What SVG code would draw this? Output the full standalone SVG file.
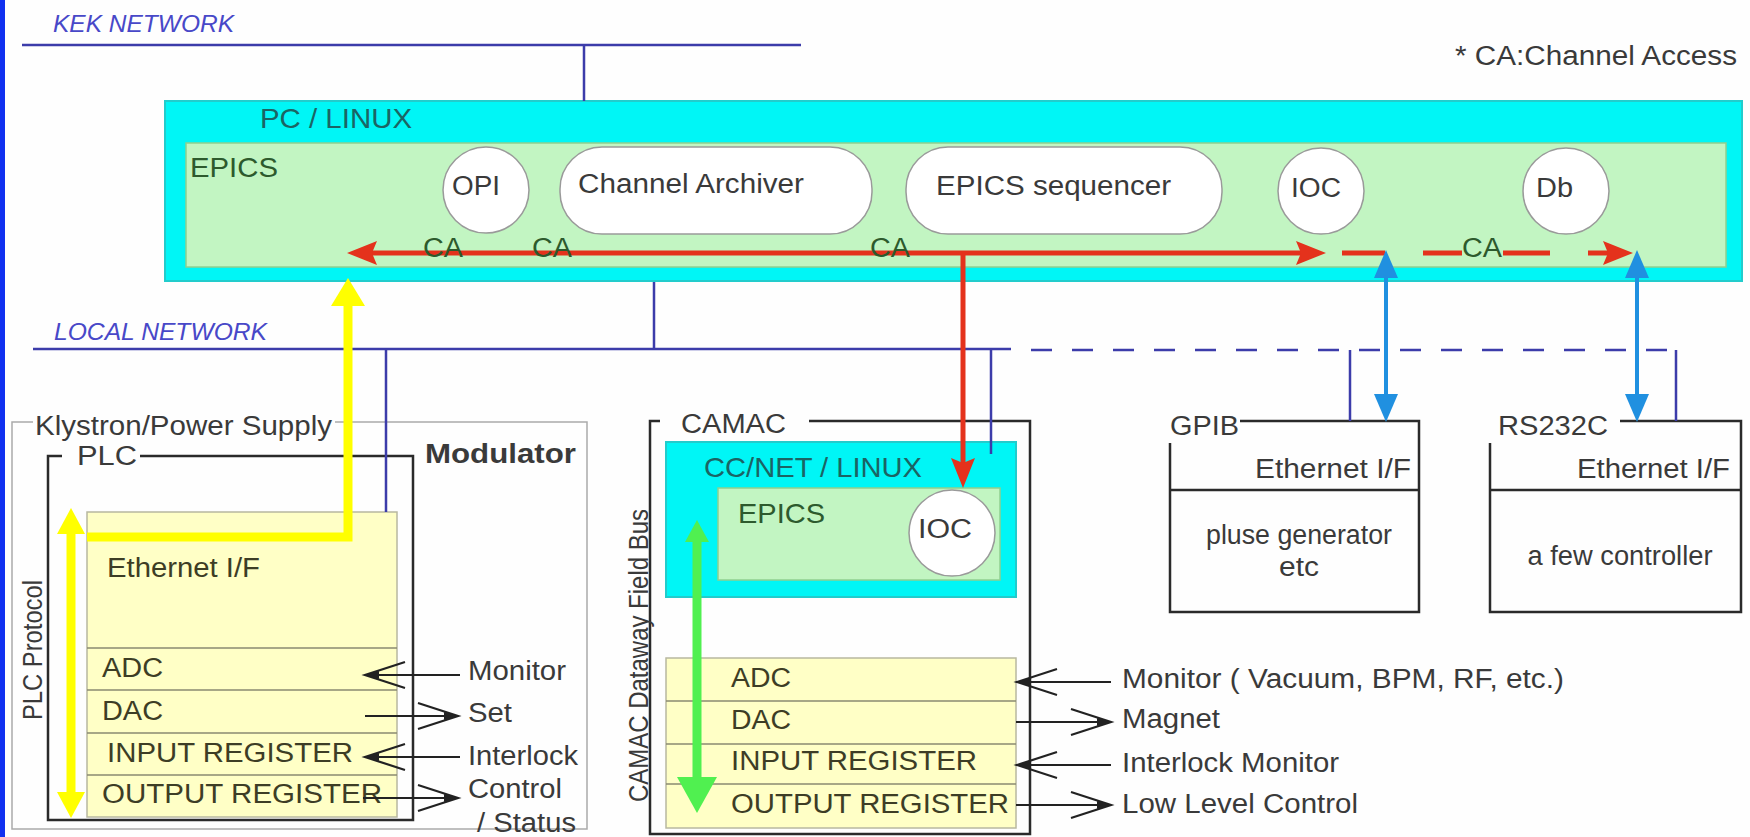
<svg xmlns="http://www.w3.org/2000/svg" width="1750" height="837" viewBox="0 0 1750 837">
<style>
text{font-family:"Liberation Sans",Arial,sans-serif;font-size:27px;fill:#3a3a3a}
.net{font-style:italic;font-size:24px;fill:#4848c8}
.teal{fill:#1b6464;font-size:28px}
.grn{fill:#2d5a2d;font-size:28px}
.ca{fill:#2d5a2d;font-size:27px}
.yl{fill:#3d3d25}
.cyan{fill:#00f6f6;stroke:#22cccc;stroke-width:2}
.green{fill:#c2f5c2;stroke:#8fcf8f;stroke-width:1.5}
.bubble{fill:#fff;stroke:#9a9a9a;stroke-width:1.5}
.yel{fill:#ffffc6;stroke:#b8b8a0;stroke-width:1.5}
.sep{stroke:#8a8a70;stroke-width:1.5}
.frame{fill:none;stroke:#2a2a2a;stroke-width:2.5}
.gframe{fill:none;stroke:#aaaaaa;stroke-width:1.5}
.netline{stroke:#3c3caa;stroke-width:2.5;fill:none}
.red{stroke:#e4321c;stroke-width:5;fill:none}
.blue{stroke:#2090e0;stroke-width:4;fill:none}
.yarrow{stroke:#ffff00;stroke-width:9;fill:none}
.garrow{stroke:#50f050;stroke-width:9;fill:none}
.sig{stroke:#222;stroke-width:2.2;fill:none}
</style>
<defs>
<marker id="redHead" markerUnits="userSpaceOnUse" viewBox="-2 -14 34 28" markerWidth="34" markerHeight="28" refX="5" refY="0" orient="auto-start-reverse" overflow="visible">
<path d="M0,-12 L30,0 L0,12 L5,0 Z" fill="#e4321c"/>
</marker>
<marker id="blueHead" markerUnits="userSpaceOnUse" viewBox="-2 -14 32 28" markerWidth="32" markerHeight="28" refX="2" refY="0" orient="auto-start-reverse" overflow="visible">
<path d="M0,-12 L28,0 L0,12 Z" fill="#2090e0"/>
</marker>
<marker id="yelHead" markerUnits="userSpaceOnUse" viewBox="-2 -15 30 30" markerWidth="30" markerHeight="30" refX="2" refY="0" orient="auto-start-reverse" overflow="visible">
<path d="M0,-14 L26,0 L0,14 Z" fill="#ffff00"/>
</marker>
<marker id="yelBig" markerUnits="userSpaceOnUse" viewBox="-2 -18 32 36" markerWidth="32" markerHeight="36" refX="2" refY="0" orient="auto" overflow="visible">
<path d="M0,-17 L28,0 L0,17 Z" fill="#ffff00"/>
</marker>
<marker id="grnBig" markerUnits="userSpaceOnUse" viewBox="-2 -21 40 42" markerWidth="40" markerHeight="42" refX="2" refY="0" orient="auto" overflow="visible">
<path d="M0,-20 L36,0 L0,20 Z" fill="#50f050"/>
</marker>
<marker id="grnSmall" markerUnits="userSpaceOnUse" viewBox="-2 -13 26 26" markerWidth="26" markerHeight="26" refX="2" refY="0" orient="auto-start-reverse" overflow="visible">
<path d="M0,-12 L22,0 L0,12 Z" fill="#50f050"/>
</marker>
<marker id="chev" markerUnits="userSpaceOnUse" viewBox="-44 -16 48 32" markerWidth="48" markerHeight="32" refX="0" refY="0" orient="auto" overflow="visible">
<path d="M-40,-13 L0,0 L-40,13" fill="none" stroke="#222" stroke-width="2.2"/>
<path d="M0,0 L-14,-4 L-14,4 Z" fill="#222"/>
</marker>
</defs>

<rect x="0" y="0" width="1750" height="837" fill="#fefefe"/>
<rect x="0" y="0" width="5" height="837" fill="#1030f0"/>

<g id="kek-network">
<text class="net" x="53" y="32" textLength="181" lengthAdjust="spacingAndGlyphs">KEK NETWORK</text>
</g>
<g id="legend">
<text x="1455" y="65" textLength="282" lengthAdjust="spacingAndGlyphs">* CA:Channel Access</text>
</g>

<g id="pc-linux">
<rect class="cyan" x="165" y="101" width="1577" height="180"/>
<text class="teal" x="260" y="128" textLength="152" lengthAdjust="spacingAndGlyphs">PC / LINUX</text>
</g>
<g id="pc-epics">
<rect class="green" x="186" y="143" width="1540" height="124"/>
<text class="grn" x="190" y="177" textLength="88" lengthAdjust="spacingAndGlyphs">EPICS</text>
</g>
<g id="opi">
<circle class="bubble" cx="486" cy="190" r="43"/>
<text x="452" y="195" textLength="48" lengthAdjust="spacingAndGlyphs">OPI</text>
</g>
<g id="channel-archiver">
<rect class="bubble" x="560" y="147" width="312" height="87" rx="42" ry="42"/>
<text x="578" y="193" textLength="226" lengthAdjust="spacingAndGlyphs">Channel Archiver</text>
</g>
<g id="epics-sequencer">
<rect class="bubble" x="906" y="147" width="316" height="87" rx="42" ry="42"/>
<text x="936" y="195" textLength="235" lengthAdjust="spacingAndGlyphs">EPICS sequencer</text>
</g>
<g id="pc-ioc">
<circle class="bubble" cx="1321" cy="191" r="43"/>
<text x="1291" y="197" textLength="50" lengthAdjust="spacingAndGlyphs">IOC</text>
</g>
<g id="db">
<circle class="bubble" cx="1566" cy="191" r="43"/>
<text x="1536" y="197" textLength="37" lengthAdjust="spacingAndGlyphs">Db</text>
</g>

<g id="local-network">
<text class="net" x="54" y="340" textLength="213" lengthAdjust="spacingAndGlyphs">LOCAL NETWORK</text>
</g>

<g id="klystron">
<path class="gframe" d="M33,422 H12 V829 H587 V422 H335"/>
<text x="35" y="435" textLength="297" lengthAdjust="spacingAndGlyphs">Klystron/Power Supply</text>
<text x="425" y="463" font-weight="bold" font-size="29" fill="#2a2a2a" textLength="151" lengthAdjust="spacingAndGlyphs">Modulator</text>
<text x="0" y="0" font-size="22" textLength="140" lengthAdjust="spacingAndGlyphs" transform="translate(42,720) rotate(-90)">PLC Protocol</text>
</g>
<g id="plc">
<path class="frame" d="M62,456 H48 V820 H413 V456 H140"/>
<text x="77" y="465" textLength="60" lengthAdjust="spacingAndGlyphs">PLC</text>
<rect class="yel" x="87" y="512" width="310" height="305"/>
<line class="sep" x1="87" y1="648" x2="397" y2="648"/>
<line class="sep" x1="87" y1="690" x2="397" y2="690"/>
<line class="sep" x1="87" y1="733" x2="397" y2="733"/>
<line class="sep" x1="87" y1="775" x2="397" y2="775"/>
<text class="yl" x="107" y="577" textLength="153" lengthAdjust="spacingAndGlyphs">Ethernet I/F</text>
<text class="yl" x="102" y="677" textLength="61" lengthAdjust="spacingAndGlyphs">ADC</text>
<text class="yl" x="102" y="720" textLength="61" lengthAdjust="spacingAndGlyphs">DAC</text>
<text class="yl" x="107" y="762" textLength="246" lengthAdjust="spacingAndGlyphs">INPUT REGISTER</text>
<text class="yl" x="102" y="803" textLength="280" lengthAdjust="spacingAndGlyphs">OUTPUT REGISTER</text>
</g>
<g id="plc-signals">
<text x="468" y="680" textLength="98" lengthAdjust="spacingAndGlyphs">Monitor</text>
<text x="468" y="722" textLength="44" lengthAdjust="spacingAndGlyphs">Set</text>
<text x="468" y="765" textLength="110" lengthAdjust="spacingAndGlyphs">Interlock</text>
<text x="468" y="798" textLength="94" lengthAdjust="spacingAndGlyphs">Control</text>
<text x="477" y="832" textLength="99" lengthAdjust="spacingAndGlyphs">/ Status</text>
</g>

<g id="camac">
<path class="frame" d="M660,421 H650 V834 H1030 V421 H809"/>
<text x="681" y="433" textLength="105" lengthAdjust="spacingAndGlyphs">CAMAC</text>
<text x="0" y="0" font-size="23" textLength="293" lengthAdjust="spacingAndGlyphs" transform="translate(648,802) rotate(-90)">CAMAC Dataway Field Bus</text>
</g>
<g id="ccnet-linux">
<rect class="cyan" x="666" y="442" width="350" height="155"/>
<text class="teal" x="704" y="477" textLength="218" lengthAdjust="spacingAndGlyphs">CC/NET / LINUX</text>
</g>
<g id="camac-epics">
<rect class="green" x="718" y="488" width="282" height="92"/>
<text class="grn" x="738" y="523" textLength="87" lengthAdjust="spacingAndGlyphs">EPICS</text>
</g>
<g id="camac-ioc">
<circle class="bubble" cx="952" cy="533" r="43"/>
<text x="918" y="538" textLength="54" lengthAdjust="spacingAndGlyphs">IOC</text>
</g>
<g id="camac-modules">
<rect class="yel" x="666" y="658" width="350" height="170"/>
<line class="sep" x1="666" y1="701" x2="1016" y2="701"/>
<line class="sep" x1="666" y1="744" x2="1016" y2="744"/>
<line class="sep" x1="666" y1="784" x2="1016" y2="784"/>
<text class="yl" x="731" y="687" textLength="60" lengthAdjust="spacingAndGlyphs">ADC</text>
<text class="yl" x="731" y="729" textLength="60" lengthAdjust="spacingAndGlyphs">DAC</text>
<text class="yl" x="731" y="770" textLength="246" lengthAdjust="spacingAndGlyphs">INPUT REGISTER</text>
<text class="yl" x="731" y="813" textLength="278" lengthAdjust="spacingAndGlyphs">OUTPUT REGISTER</text>
</g>
<g id="camac-signals">
<text x="1122" y="688" textLength="442" lengthAdjust="spacingAndGlyphs">Monitor ( Vacuum, BPM, RF, etc.)</text>
<text x="1122" y="728" textLength="98" lengthAdjust="spacingAndGlyphs">Magnet</text>
<text x="1122" y="772" textLength="217" lengthAdjust="spacingAndGlyphs">Interlock Monitor</text>
<text x="1122" y="813" textLength="236" lengthAdjust="spacingAndGlyphs">Low Level Control</text>
</g>

<g id="gpib">
<path class="frame" d="M1240,421 H1419 V612 H1170 V443"/>
<line class="frame" x1="1170" y1="490" x2="1419" y2="490"/>
<text x="1170" y="435" textLength="69" lengthAdjust="spacingAndGlyphs">GPIB</text>
<text x="1255" y="478" textLength="156" lengthAdjust="spacingAndGlyphs">Ethernet I/F</text>
<text x="1299" y="544" font-size="24" text-anchor="middle" textLength="186" lengthAdjust="spacingAndGlyphs">pluse generator</text>
<text x="1299" y="576" font-size="24" text-anchor="middle" textLength="40" lengthAdjust="spacingAndGlyphs">etc</text>
</g>
<g id="rs232c">
<path class="frame" d="M1620,421 H1741 V612 H1490 V443"/>
<line class="frame" x1="1490" y1="490" x2="1741" y2="490"/>
<text x="1498" y="435" textLength="110" lengthAdjust="spacingAndGlyphs">RS232C</text>
<text x="1577" y="478" textLength="153" lengthAdjust="spacingAndGlyphs">Ethernet I/F</text>
<text x="1620" y="565" font-size="25" text-anchor="middle" textLength="185" lengthAdjust="spacingAndGlyphs">a few controller</text>
</g>

<g id="connectors">
<path class="netline" d="M22,45 H801 M584,45 V101"/>
<path class="netline" d="M33,349 H1011 M654,282 V349 M386,349 V512 M991,349 V454"/>
<path class="netline" d="M1031,350 H1676" stroke-dasharray="21 20"/>
<path class="netline" d="M1350,350 V421 M1676,350 V421"/>

<path class="red" d="M372,253 H1301" marker-start="url(#redHead)" marker-end="url(#redHead)"/>
<path class="red" d="M963,253 V463" marker-end="url(#redHead)"/>
<path class="red" d="M1342,253 H1385 M1423,253 H1462 M1503,253 H1550 M1588,253 H1608" marker-end="url(#redHead)"/>
<text class="ca" x="423" y="257" textLength="40" lengthAdjust="spacingAndGlyphs">CA</text>
<text class="ca" x="532" y="257" textLength="40" lengthAdjust="spacingAndGlyphs">CA</text>
<text class="ca" x="870" y="257" textLength="40" lengthAdjust="spacingAndGlyphs">CA</text>
<text class="ca" x="1462" y="257" textLength="40" lengthAdjust="spacingAndGlyphs">CA</text>

<path class="blue" d="M1386,276 V396" marker-start="url(#blueHead)" marker-end="url(#blueHead)"/>
<path class="blue" d="M1637,276 V396" marker-start="url(#blueHead)" marker-end="url(#blueHead)"/>

<path class="yarrow" d="M71,532 V794" marker-start="url(#yelHead)" marker-end="url(#yelHead)"/>
<path class="yarrow" d="M87,537 H348 V304" marker-end="url(#yelBig)"/>

<path class="garrow" d="M697,540 V779" marker-start="url(#grnSmall)" marker-end="url(#grnBig)"/>

<path class="sig" d="M460,675 H365" marker-end="url(#chev)"/>
<path class="sig" d="M365,716 H458" marker-end="url(#chev)"/>
<path class="sig" d="M460,757 H365" marker-end="url(#chev)"/>
<path class="sig" d="M363,798 H458" marker-end="url(#chev)"/>

<path class="sig" d="M1111,682 H1017" marker-end="url(#chev)"/>
<path class="sig" d="M1016,722 H1111" marker-end="url(#chev)"/>
<path class="sig" d="M1111,765 H1017" marker-end="url(#chev)"/>
<path class="sig" d="M1016,805 H1111" marker-end="url(#chev)"/>
</g>
</svg>
